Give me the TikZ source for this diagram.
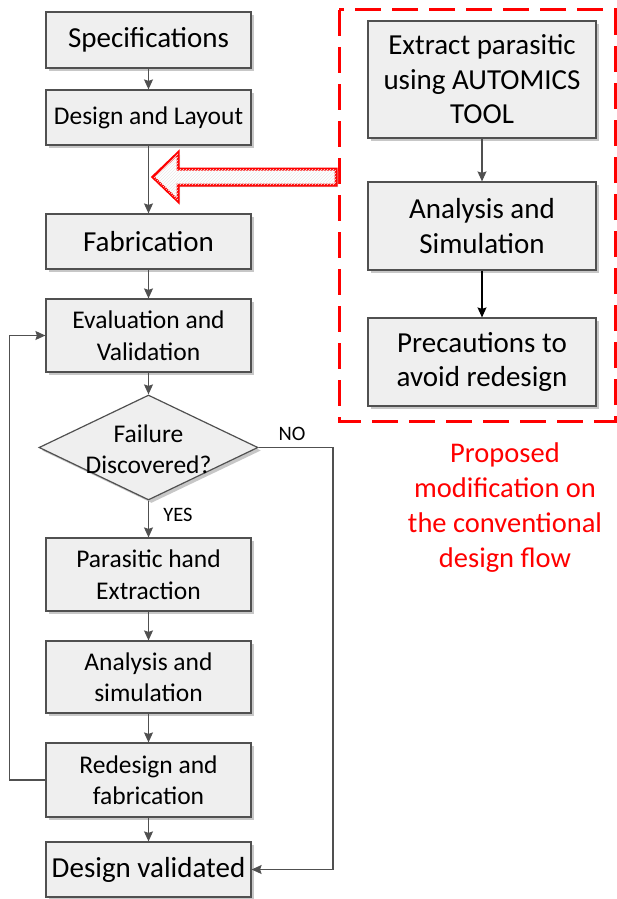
\documentclass[tikz,border=0pt]{standalone}
\usepackage{fontspec}
\setmainfont{Carlito}
\usetikzlibrary{shapes.geometric,arrows.meta,shadows,patterns}
\definecolor{boxfill}{RGB}{239,239,239}
\definecolor{edgec}{RGB}{80,80,80}
\definecolor{pred}{RGB}{255,0,0}
\begin{document}
\begin{tikzpicture}[x=1pt,y=-1pt,
  shadowed/.style={drop shadow={shadow xshift=3pt,shadow yshift=-3pt,fill=black!22,opacity=1}},
  box/.style={draw=edgec,line width=1.2pt,fill=boxfill,rectangle,inner sep=2pt,align=center,shadowed},
  lbox/.style={box,minimum width=205pt},
  rbox/.style={box,minimum width=228pt},
  big/.style={font=\fontsize{29}{34.5}\selectfont},
  mid/.style={font=\fontsize{25.5}{31.5}\selectfont},
  small/.style={font=\fontsize{20.5}{24}\selectfont},
  conn/.style={draw=edgec,line width=1.2pt,-{Stealth[length=10pt,width=9pt,inset=1.5pt]}},
  ]
\useasboundingbox (0,0) rectangle (616,899);

% left column
\node[lbox,big,minimum height=56pt] (spec) at (148.5,40) {Specifications};
\node[lbox,mid,minimum height=55pt] (design) at (148.5,117.5) {Design and Layout};
\node[lbox,big,minimum height=55pt] (fab) at (148.5,241.5) {Fabrication};
\node[lbox,mid,minimum height=73pt] (eval) at (148.5,335.5) {Evaluation and\\Validation};
\node[diamond,draw=edgec,fill=boxfill,line width=1.2pt,inner sep=0pt,aspect=2.086,
      minimum width=219pt,minimum height=105pt,shadowed] (dec) at (148.5,447.5) {};
\node[mid,align=center] (declabel) at (148.5,449) {Failure\\Discovered?};
\node[lbox,mid,minimum height=73pt] (para) at (148.5,574.5) {Parasitic hand\\Extraction};
\node[lbox,mid,minimum height=72pt] (anal) at (148.5,677) {Analysis and\\simulation};
\node[lbox,mid,minimum height=74pt] (redes) at (148.5,780) {Redesign and\\fabrication};
\node[lbox,big,minimum height=55pt] (valid) at (148.5,869.5) {Design validated};

\node[small] (yes) at (178,515) {YES};
\node[small] (no) at (292,434) {NO};

\draw[conn] (spec) -- (design);
\draw[conn] (design) -- (fab);
\draw[conn] (fab) -- (eval);
\draw[conn] (eval) -- (dec);
\draw[conn] (dec) -- (para);
\draw[conn] (para) -- (anal);
\draw[conn] (anal) -- (redes);
\draw[conn] (redes) -- (valid);
\draw[conn] (redes.west) -- ++(-36,0) |- (eval.west);
\coordinate (nocorner) at (333,447.5);
\draw[conn] (dec.east) -- (nocorner) |- (valid.east);

% right column
\node[rbox,big,minimum height=117pt] (extract) at (482,79.5) {Extract parasitic\\using AUTOMICS\\TOOL};
\node[rbox,big,minimum height=88pt] (asim) at (482,226) {Analysis and\\Simulation};
\node[rbox,big,minimum height=88pt] (prec) at (482,362) {Precautions to\\avoid redesign};
\draw[conn] (extract) -- (asim);
\draw[conn,draw=black] (asim) -- (prec);

% dashed frame
\draw[pred,line width=3pt,dash pattern=on 26pt off 11pt] (339,10) rectangle (615,421);

% big hollow arrow
\draw[pred,line width=3pt,line join=miter,fill=white,
      postaction={pattern=north east lines,pattern color=black!8},
      drop shadow={shadow xshift=2pt,shadow yshift=-2pt,fill=black!15,opacity=1}]
  (153,177) -- (178,153) -- (178,169) -- (336,169) -- (336,185) -- (178,185) -- (178,201) -- cycle;

\node[text=pred,font=\fontsize{28.5}{35}\selectfont,align=center] (note) at (505,508)
  {Proposed\\modification on\\the conventional\\design flow};
\end{tikzpicture}
\end{document}
